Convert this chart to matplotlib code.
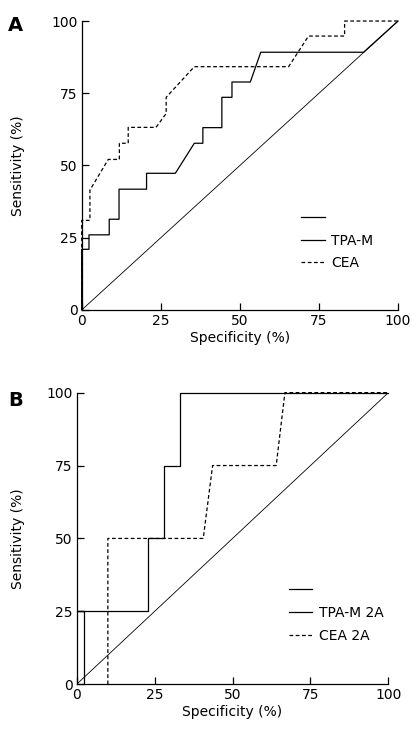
import matplotlib
matplotlib.use("Agg")
import matplotlib.pyplot as plt
from matplotlib.lines import Line2D

# Panel A: ROC curves (specificity %, sensitivity %)
tpa_spec = [0, 0, 2.3, 2.3, 8.7, 8.7, 11.8, 11.8, 20.5, 20.5, 29.6, 35.6, 38.3, 38.3,
            44.3, 44.3, 47.5, 47.5, 53.3, 56.6, 89.1, 100]
tpa_sens = [0, 21, 21, 26, 26, 31.4, 31.4, 41.8, 41.8, 47.3, 47.3, 57.7, 57.7, 63.1,
            63.1, 73.6, 73.6, 78.9, 78.9, 89.2, 89.2, 100]
cea_spec = [0, 0, 2.6, 2.6, 8.4, 11.9, 11.9, 14.7, 14.7, 23.5, 26.7, 26.7, 35.6,
            65.4, 71.7, 83.1, 83.1, 100]
cea_sens = [0, 31, 31, 41.5, 52.1, 52.1, 57.7, 57.7, 63.2, 63.2, 68, 73.6, 84.2,
            84.2, 94.8, 94.8, 100, 100]

# Panel B
tpa2_spec = [2.5, 2.5, 0, 23, 23, 28, 28, 33, 33, 100]
tpa2_sens = [0, 25, 25, 25, 50, 50, 75, 75, 100, 100]
cea2_spec = [10, 10, 40.6, 43.6, 64, 66.8, 100]
cea2_sens = [0, 50, 50, 75, 75, 100, 100]

ref = [0, 100]
ticks = [0, 25, 50, 75, 100]

plt.rcParams['font.family'] = ['DejaVu Sans']
plt.rcParams['font.size'] = 10

fig = plt.figure(figsize=(4.19, 7.38), dpi=100)
axA = fig.add_axes([0.195, 0.58, 0.755, 0.3915])
axB = fig.add_axes([0.183, 0.0728, 0.744, 0.3952])

dash = (0, (3, 2))

def style(ax, ypad):
    ax.set_xlim(0, 100)
    ax.set_ylim(0, 100)
    ax.set_xticks(ticks)
    ax.set_yticks(ticks)
    for s in ['top', 'right']:
        ax.spines[s].set_visible(False)
    for s in ['left', 'bottom']:
        ax.spines[s].set_linewidth(0.9)
    ax.tick_params(direction='in', length=5, width=0.9, labelsize=10, pad=3)
    ax.set_xlabel("Specificity (%)", fontsize=10, labelpad=2)
    ax.set_ylabel("Sensitivity (%)", fontsize=10, labelpad=ypad)

axA.plot(ref, ref, color='black', lw=0.6)
axA.plot(tpa_spec, tpa_sens, color='black', lw=0.9, clip_on=False)
axA.plot(cea_spec, cea_sens, color='black', lw=0.9, linestyle=dash, clip_on=False)
style(axA, 19)
hA = [Line2D([], [], color='black', lw=0.9),
      Line2D([], [], color='black', lw=0.9),
      Line2D([], [], color='black', lw=0.9, linestyle=dash)]
axA.legend(hA, [' ', 'TPA-M', 'CEA'], frameon=False, fontsize=10,
           loc='center left', bbox_to_anchor=(0.655, 0.24),
           handlelength=1.7, handletextpad=0.45, labelspacing=0.6)

axB.plot(ref, ref, color='black', lw=0.6)
axB.plot(tpa2_spec, tpa2_sens, color='black', lw=0.9, clip_on=False)
axB.plot(cea2_spec, cea2_sens, color='black', lw=0.9, linestyle=dash, clip_on=False)
style(axB, 15.5)
hB = [Line2D([], [], color='black', lw=0.9),
      Line2D([], [], color='black', lw=0.9),
      Line2D([], [], color='black', lw=0.9, linestyle=dash)]
axB.legend(hB, [' ', 'TPA-M 2A', 'CEA 2A'], frameon=False, fontsize=10,
           loc='center left', bbox_to_anchor=(0.64, 0.245),
           handlelength=1.7, handletextpad=0.45, labelspacing=0.65)

fig.text(0.037, 0.965, 'A', fontsize=14, fontweight='bold', va='center', ha='center')
fig.text(0.037, 0.457, 'B', fontsize=14, fontweight='bold', va='center', ha='center')

fig.savefig('out.png', dpi=100)
